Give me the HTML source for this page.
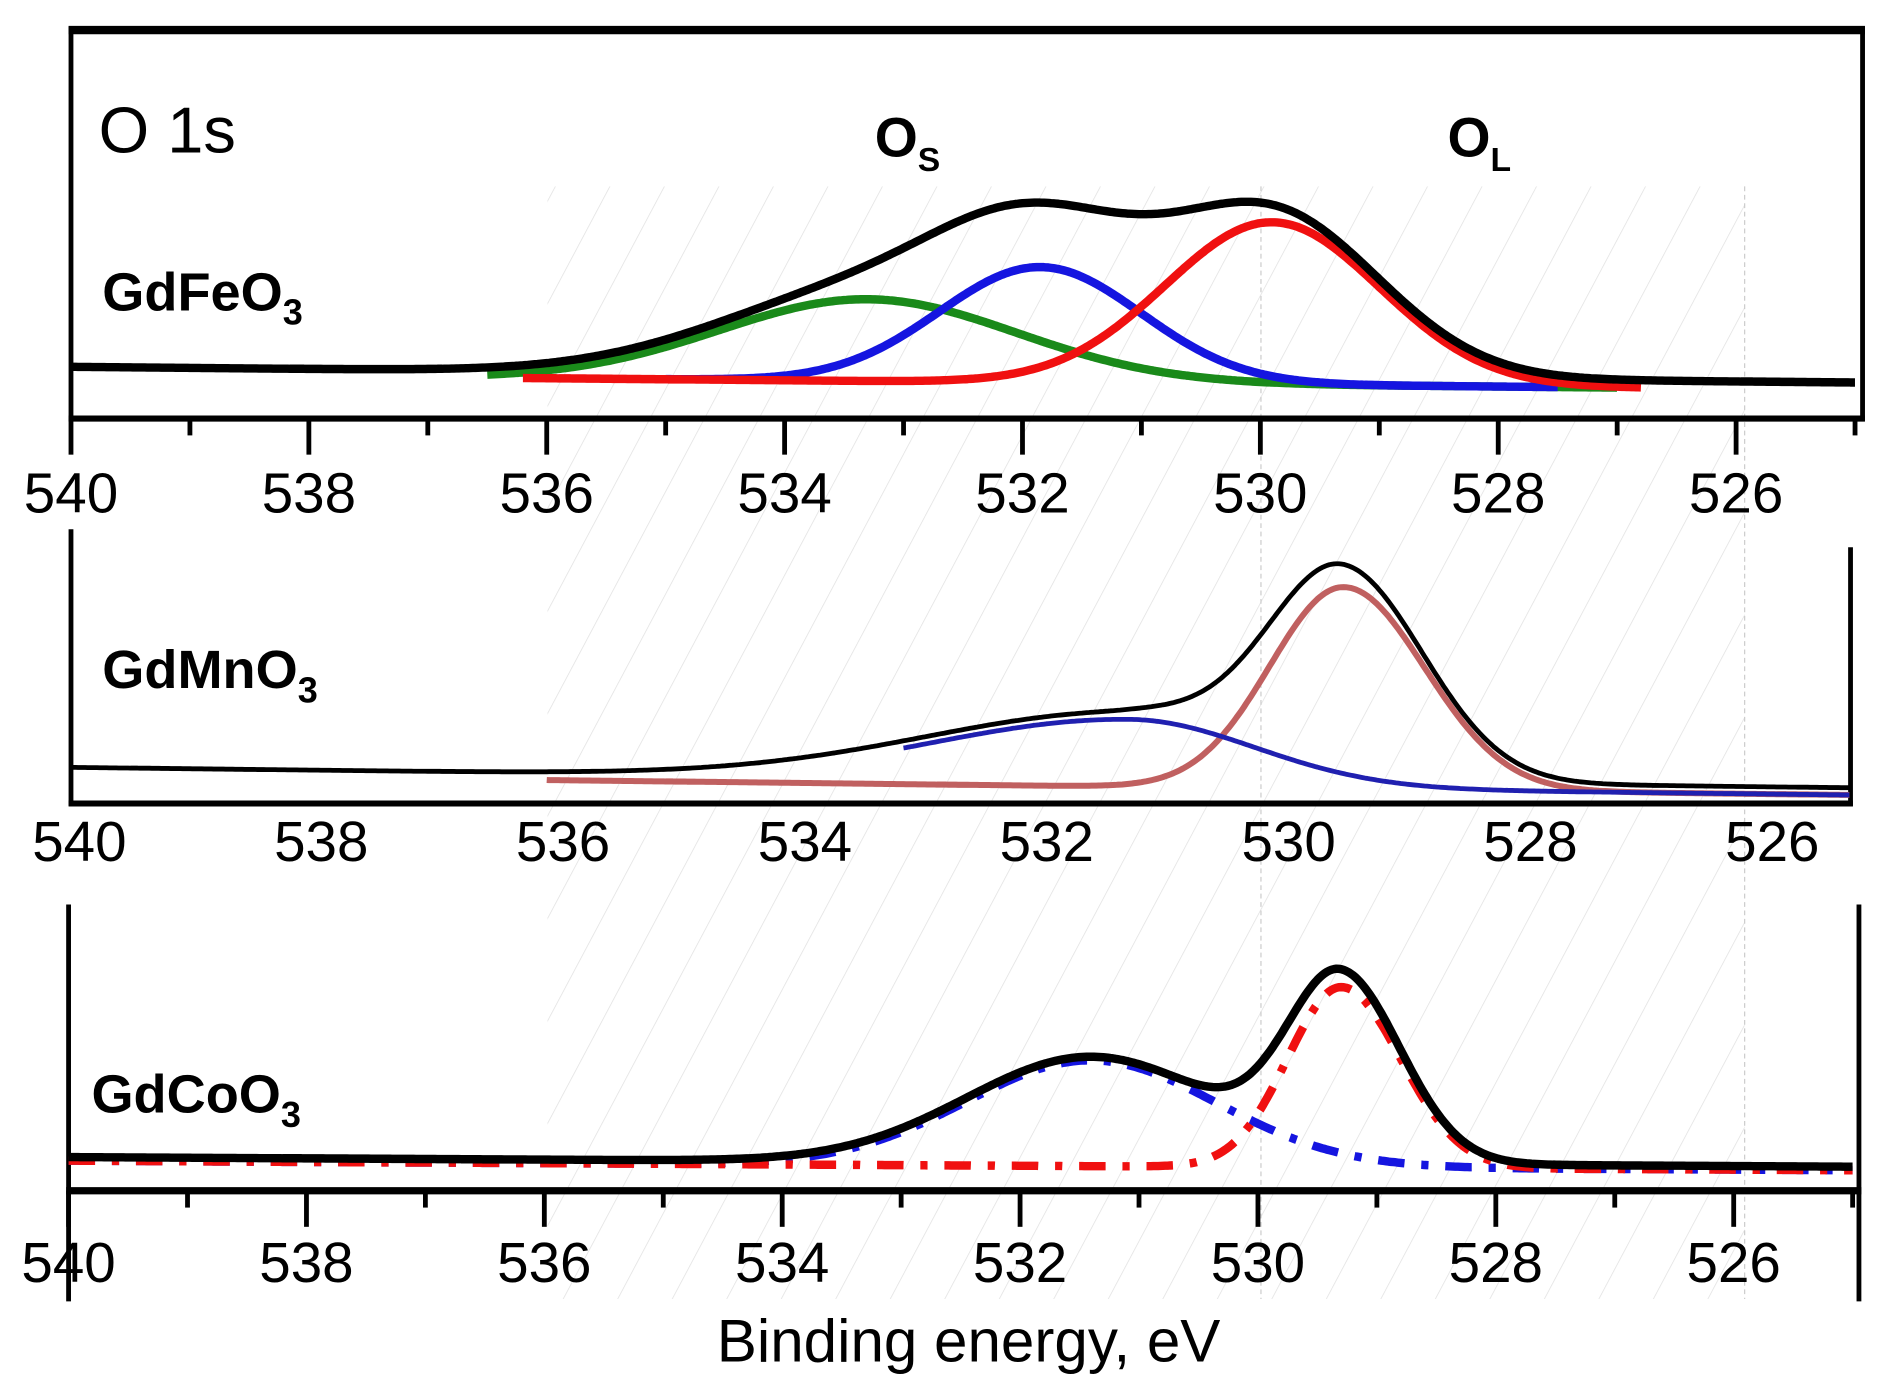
<!DOCTYPE html>
<html><head><meta charset="utf-8"><style>
html,body{margin:0;padding:0;background:#fff;overflow:hidden}
svg{display:block}
text{font-family:"Liberation Sans",sans-serif}
</style></head><body>
<svg id="s" width="1877" height="1388" viewBox="0 0 1560 1154" preserveAspectRatio="none" xmlns="http://www.w3.org/2000/svg">
<defs>
<pattern id="h" width="40" height="40" patternUnits="userSpaceOnUse" patternTransform="rotate(28)">
<line x1="0" y1="0" x2="0" y2="40" stroke="#d8d8d8" stroke-width="1.2"/>
</pattern>
<clipPath id="cp2"><rect x="0" y="0" width="1537" height="1154"/></clipPath>
</defs>
<rect x="455" y="155" width="995" height="925" fill="url(#h)" opacity="0.8"/>
<line x1="1048" y1="155" x2="1048" y2="1080" stroke="#ccc" stroke-width="1" stroke-dasharray="4,3"/>
<line x1="1450" y1="155" x2="1450" y2="1080" stroke="#ccc" stroke-width="1" stroke-dasharray="4,3"/>

<line x1="57" y1="25" x2="1550" y2="25" stroke="#000" stroke-width="7"/>
<line x1="59" y1="22" x2="59" y2="350" stroke="#000" stroke-width="4"/>
<line x1="1548" y1="22" x2="1548" y2="350" stroke="#000" stroke-width="4"/>
<line x1="57" y1="348" x2="1550" y2="348" stroke="#000" stroke-width="5"/>
<text x="82" y="127" font-size="54">O 1s</text>
<text x="727" y="130" font-size="46" font-weight="bold">O<tspan font-size="28" dy="12">S</tspan></text>
<text x="1203" y="130" font-size="46" font-weight="bold">O<tspan font-size="28" dy="12">L</tspan></text>
<text x="85" y="258" font-size="45" font-weight="bold">GdFeO<tspan font-size="30" dy="12">3</tspan></text>

<line x1="59" y1="440" x2="59" y2="670" stroke="#000" stroke-width="4"/>
<line x1="1538" y1="455" x2="1538" y2="670" stroke="#000" stroke-width="4"/>
<line x1="57" y1="668" x2="1540" y2="668" stroke="#000" stroke-width="5"/>
<text x="85" y="572" font-size="45" font-weight="bold">GdMnO<tspan font-size="30" dy="12">3</tspan></text>

<line x1="57" y1="752" x2="57" y2="1082" stroke="#000" stroke-width="4"/>
<line x1="1545" y1="752" x2="1545" y2="1082" stroke="#000" stroke-width="4"/>
<line x1="55" y1="990" x2="1547" y2="990" stroke="#000" stroke-width="6"/>
<text x="76" y="925" font-size="45" font-weight="bold">GdCoO<tspan font-size="30" dy="12">3</tspan></text>

<text x="805" y="1132" font-size="50" text-anchor="middle">Binding energy, eV</text>
</svg>
<script>
var NS="http://www.w3.org/2000/svg",s=document.getElementById('s');
function el(t,a,txt){var e=document.createElementNS(NS,t);for(var k in a)e.setAttribute(k,a[k]);if(txt!==undefined)e.textContent=txt;s.appendChild(e);return e;}
function axis(x0,step,yAx,tickMaj,tickMin,ly){
 for(var i=0;i<=15;i++){var e=540-i,x=x0+i*step/2;
  if(tickMaj){var L=(i%2==0)?tickMaj:tickMin;el('line',{x1:x,y1:yAx,x2:x,y2:yAx+L,stroke:'#000','stroke-width':4});}
  if(i%2==0&&i<=14)el('text',{x:x,y:ly,'font-size':47,'text-anchor':'middle'},String(e));}
}
axis(59,197.7,348,30,14,426);
axis(66,201,668,0,0,716);
axis(57,197.7,990,30,14,1066);
function g(e,c,sl,sr,h){var d=e-c,sg=d>0?sl:sr;return h*Math.exp(-d*d/(2*sg*sg));}
function path(x0,step,fn,col,w,dash,e0,e1,clip){e0=e0||540;e1=e1||525;var d='';for(var e=e0;e>=e1;e-=0.02){var x=x0+(540-e)*step/2;d+=(d?'L':'M')+x.toFixed(1)+' '+fn(e).toFixed(1);}
 var a={d:d,fill:'none',stroke:col,'stroke-width':w,'stroke-linejoin':'round'};if(dash)a['stroke-dasharray']=dash;if(clip)a['clip-path']='url(#cp2)';el('path',a);}
function b1(e){return 305+(540-e)/15*13;}
var G1=function(e){return g(e,533.3,1.25,1.25,68)},B1=function(e){return g(e,531.85,0.85,0.85,96)},R1=function(e){return g(e,529.9,0.9,0.9,135)};
path(59,197.7,function(e){return b1(e)+6-G1(e)},'#1a8a1a',7,null,536.5,527);
path(59,197.7,function(e){return b1(e)+6-B1(e)},'#1515e0',7,null,535,527.5);
path(59,197.7,function(e){return b1(e)+6-R1(e)},'#f01010',7,null,536.2,526.8);
path(59,197.7,function(e){return b1(e)-G1(e)-B1(e)-R1(e)},'#000',7);
function b2(e){return 638+(540-e)/15*17;}
var R2=function(e){return g(e,529.3,0.62,0.68,168)},B2=function(e){return g(e,531.1,1.7,1.05,56)};
path(59,197.7,function(e){return b2(e)+6-R2(e)},'#c06060',5,null,536,525,1);
path(59,197.7,function(e){return b2(e)+6-B2(e)},'#2020b0',4,null,533,525,1);
path(59,197.7,function(e){return b2(e)-R2(e)-B2(e)},'#000',4,null,540,525,1);
function b3(e){return 962+(540-e)/15*8;}
var B3=function(e){return g(e,531.4,1.05,1.05,88)},R3=function(e){return g(e,529.3,0.45,0.5,150)};
path(57,197.7,function(e){return b3(e)+3-B3(e)},'#1515e0',7,'22,14,6,14');
path(57,197.7,function(e){return b3(e)+3-R3(e)},'#f01010',7,'22,14,6,14');
path(57,197.7,function(e){return b3(e)-B3(e)-R3(e)},'#000',7);
</script>
</body></html>
